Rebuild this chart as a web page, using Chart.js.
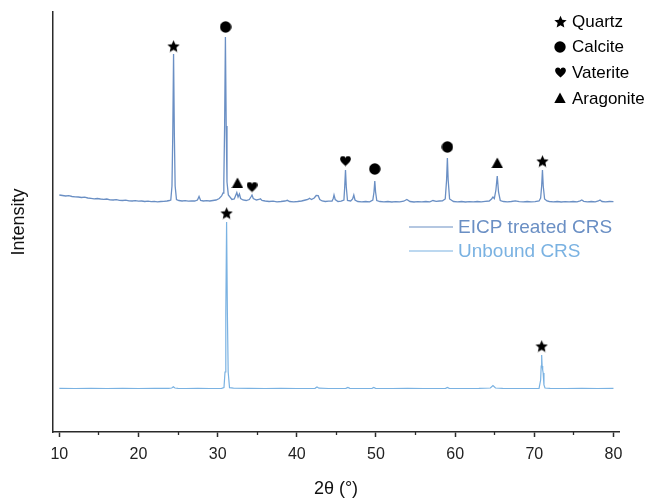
<!DOCTYPE html>
<html>
<head>
<meta charset="utf-8">
<script src="https://cdn.jsdelivr.net/npm/chart.js@4"></script>
<style>
  html, body { margin: 0; padding: 0; background: #ffffff; }
  #wrap { width: 649px; height: 500px; }
</style>
</head>
<body>
<div id="wrap"><canvas id="c" width="649" height="500"></canvas></div>
<script>
// ---------------- DATA ----------------
const seriesNames = ['EICP treated CRS', 'Unbound CRS'];

// EICP treated CRS: 2θ (°) and intensity (a.u., offset pattern)
const eicpTheta = [
  10.0,10.4,10.8,11.2,11.6,12.0,12.4,12.8,13.2,13.6,
  14.0,14.4,14.8,15.2,15.6,16.0,16.4,16.8,17.2,17.6,
  18.0,18.4,18.8,19.2,19.6,20.0,20.4,20.8,21.2,21.6,
  22.0,22.4,22.8,23.2,23.6,23.9,24.08,24.23,24.33,24.43,
  24.53,24.63,24.8,25.1,25.5,25.9,26.3,26.7,27.1,27.45,
  27.65,27.85,28.2,28.6,29.0,29.4,29.8,30.2,30.5,30.68,
  30.78,30.88,30.98,31.08,31.18,31.35,31.8,32.1,32.3,32.42,
  32.58,32.75,32.9,33.2,33.6,34.0,34.2,34.34,34.5,34.9,
  35.2,35.4,35.6,36.0,36.5,37.0,37.5,38.0,38.5,38.8,
  39.1,39.6,40.1,40.6,41.1,41.4,41.6,41.85,42.2,42.45,
  42.7,42.9,43.2,43.6,44.0,44.45,44.6,44.7,44.85,45.2,
  45.6,45.95,46.05,46.15,46.25,46.4,46.8,47.05,47.2,47.35,
  47.7,48.2,48.7,49.2,49.6,49.75,49.85,49.95,50.1,50.5,
  51.0,51.5,52.0,52.5,53.0,53.5,53.9,54.3,54.8,55.3,
  55.8,56.3,56.8,57.2,57.6,58.0,58.4,58.75,58.92,59.02,
  59.12,59.3,59.8,60.3,60.8,61.3,61.8,62.3,62.8,63.3,
  63.8,64.3,64.6,64.78,64.95,65.15,65.32,65.48,65.7,66.1,
  66.6,67.1,67.6,68.1,68.6,69.1,69.6,70.1,70.6,70.8,
  70.93,71.03,71.13,71.3,71.6,71.9,72.4,72.9,73.4,73.9,
  74.4,74.9,75.4,75.8,76.0,76.25,76.7,77.2,77.7,78.1,
  78.3,78.55,79.0,79.5,80.0
];
const eicpInt = [
  237,236.5,236,236.3,235.5,235.2,235,234.5,234.8,234,
  233.7,233.2,233.5,233,232.7,233,232.2,232,232.4,231.7,
  231.5,231.8,231.2,231,231.4,230.8,231,230.5,230.8,230.4,
  230.6,230.2,230.5,230.7,231,231.5,232,246,297,378,
  297,246,232.5,231.5,231,231.4,230.8,231.2,231,232,
  235.5,231.5,231,231.4,231,231.5,232,233.5,236,239,
  250,306,395,306,250,237,232.5,233,237,239.5,
  235,238,233.5,232,231.5,232.5,235,237,233.5,232,
  232.5,233.2,231.5,231,230.5,230.8,230.2,230.5,231,231.7,
  230.5,230.2,230.5,231,232,232.5,233.7,232.5,234,236.5,
  236.3,232.5,231,230.5,230.8,231,233.5,237,232.5,230.5,
  230.8,232,245,262,245,231.5,231,233,237,232,
  230.5,230.2,230.5,230.2,232,240,251,240,231.5,230.5,
  230.2,230.5,230,230.4,230.2,230.8,232.5,230.5,230,230.4,
  230.1,230.5,230.2,231.5,230.6,231,231.2,233,252,274,
  252,233,230.5,230.2,230.5,230,230.4,230.1,230.5,230.2,
  230.6,231,233,235,233.5,242,256,240,231.5,230.5,
  230.2,230.5,231.2,230.4,230.1,230.5,230.2,230.4,231,234,
  246,262,246,233,231,230.5,230.2,230.5,230,230.4,
  230.1,230.5,230.2,231.2,232,230.7,230.2,230.5,230.1,231,
  232,230.5,230.2,230.5,230.3
];

// Unbound CRS
const unboundTheta = [
  10,12,14,16,18,20,22,23.8,24.2,24.4,
  24.6,25.0,26,27.5,29,30.5,30.8,30.93,31.03,31.13,
  31.23,31.33,31.5,32,34,36,38,40,42.3,42.55,
  42.8,44,46.2,46.45,46.7,48,49.5,49.72,49.95,52,
  54,56,58.8,59.02,59.25,61,63,64.45,64.78,65.1,
  66,68,70.6,70.8,70.87,70.93,70.99,71.06,71.12,71.22,
  71.35,72,74,76,78,80
];
const unboundInt = [
  43.6,43.5,43.7,43.5,43.6,43.5,43.7,43.6,44,45.2,
  44,43.6,43.5,43.6,43.5,43.7,44.5,60,118,210,
  118,60,44.3,43.8,43.6,43.5,43.6,43.5,43.7,45,
  43.8,43.5,43.6,44.6,43.6,43.5,43.7,44.5,43.7,43.5,
  43.6,43.5,43.6,44.5,43.6,43.5,43.6,44,46.5,44,
  43.6,43.5,43.7,52,66,77,66,62,59,47,
  44,43.6,43.5,43.6,43.5,43.6
];

// Phase markers (2θ position, height of marker)
const phaseNames = ['Quartz', 'Calcite', 'Vaterite', 'Aragonite'];
const quartzTheta = [24.43, 71.03, 31.13, 70.93];
const quartzInt   = [386, 271, 219, 86];
const calciteTheta = [31.0, 49.85, 59.02];
const calciteInt   = [405, 263, 285];
const vateriteTheta = [34.34, 46.15];
const vateriteInt   = [245, 271];
const aragoniteTheta = [32.5, 65.32];
const aragoniteInt   = [249, 269];

// Axis ticks
const xMajorTicks = [10, 20, 30, 40, 50, 60, 70, 80];
const xMinorTicks = [15, 25, 35, 45, 55, 65, 75];

// ---------------- STYLE ----------------
const FONT = '"Liberation Sans", Arial, Helvetica, sans-serif';
const seriesColors = ['#6a8fc4', '#7ab2e2'];
const axisColor = '#2a2a2a';

function makeSymbol(kind, size) {
  const c = document.createElement('canvas');
  c.width = size; c.height = size;
  const g = c.getContext('2d');
  g.fillStyle = '#000';
  const s = size, m = s / 2;
  g.beginPath();
  if (kind === 'star') {
    const R = s / 2, r = R * 0.46;
    for (let k = 0; k < 10; k++) {
      const a = -Math.PI / 2 + k * Math.PI / 5;
      const rr = (k % 2) ? r : R;
      const px = m + rr * Math.cos(a), py = m + rr * Math.sin(a) + R * 0.1;
      if (k) g.lineTo(px, py); else g.moveTo(px, py);
    }
    g.closePath();
  } else if (kind === 'circle') {
    g.arc(m, m, s / 2 - 0.3, 0, Math.PI * 2);
  } else if (kind === 'triangle') {
    g.moveTo(m, 0.5);
    g.lineTo(s - 0.3, s - 1);
    g.lineTo(0.3, s - 1);
    g.closePath();
  } else if (kind === 'heart') {
    const k = s / 10;
    g.moveTo(5 * k, 9.6 * k);
    g.bezierCurveTo(2 * k, 7 * k, 0, 5 * k, 0.1 * k, 3.1 * k);
    g.bezierCurveTo(0.1 * k, 1.4 * k, 1.3 * k, 0.4 * k, 2.7 * k, 0.4 * k);
    g.bezierCurveTo(3.9 * k, 0.4 * k, 4.6 * k, 1.2 * k, 5 * k, 2.2 * k);
    g.bezierCurveTo(5.4 * k, 1.2 * k, 6.1 * k, 0.4 * k, 7.3 * k, 0.4 * k);
    g.bezierCurveTo(8.7 * k, 0.4 * k, 9.9 * k, 1.4 * k, 9.9 * k, 3.1 * k);
    g.bezierCurveTo(10 * k, 5 * k, 8 * k, 7 * k, 5 * k, 9.6 * k);
    g.closePath();
  }
  g.fill();
  return c;
}

const symStar = makeSymbol('star', 13);
const symCircle = makeSymbol('circle', 12);
const symHeart = makeSymbol('heart', 11);
const symTriangle = makeSymbol('triangle', 12);
const phaseSymbols = [symStar, symCircle, symHeart, symTriangle];

function pts(xs, ys) { return xs.map((x, i) => ({ x: x, y: ys[i] })); }

const legendPlugin = {
  id: 'customLegends',
  afterDraw(chart) {
    const ctx = chart.ctx;
    ctx.save();
    ctx.textBaseline = 'middle';
    ctx.textAlign = 'left';
    seriesNames.forEach((name, i) => {
      const y = 227 + i * 24;
      ctx.strokeStyle = seriesColors[i];
      ctx.lineWidth = 1.2;
      ctx.beginPath(); ctx.moveTo(409, y); ctx.lineTo(453, y); ctx.stroke();
      ctx.fillStyle = seriesColors[i];
      ctx.font = '19px ' + FONT;
      ctx.fillText(name, 458, y + 1);
    });
    phaseNames.forEach((name, i) => {
      const y = 21 + i * 25.7;
      const img = phaseSymbols[i];
      ctx.drawImage(img, Math.round(560 - img.width / 2), Math.round(y - img.height / 2));
      ctx.fillStyle = '#000';
      ctx.font = '17px ' + FONT;
      ctx.fillText(name, 572, y + 1);
    });
    ctx.restore();
  }
};

const markerDs = (xs, ys, img) => ({
  type: 'scatter', data: pts(xs, ys), showLine: false,
  pointStyle: img, pointRadius: 6, pointHoverRadius: 6, order: -1, clip: false
});

new Chart(document.getElementById('c'), {
  type: 'scatter',
  data: {
    datasets: [
      { label: seriesNames[0], data: pts(eicpTheta, eicpInt), showLine: true, borderColor: seriesColors[0], borderWidth: 1.3, pointRadius: 0, tension: 0 },
      { label: seriesNames[1], data: pts(unboundTheta, unboundInt), showLine: true, borderColor: seriesColors[1], borderWidth: 1.2, pointRadius: 0, tension: 0 },
      markerDs(quartzTheta, quartzInt, symStar),
      markerDs(calciteTheta, calciteInt, symCircle),
      markerDs(vateriteTheta, vateriteInt, symHeart),
      markerDs(aragoniteTheta, aragoniteInt, symTriangle)
    ]
  },
  options: {
    responsive: false,
    animation: false,
    events: [],
    layout: { padding: { left: 8, top: 12, right: 30, bottom: 0 } },
    plugins: { legend: { display: false }, tooltip: { enabled: false } },
    scales: {
      x: {
        type: 'linear', position: 'bottom', min: 9.2, max: 80.7, weight: 1,
        afterBuildTicks(s) { s.ticks = xMajorTicks.map(v => ({ value: v })); },
        ticks: { font: { size: 16, family: FONT }, color: '#222', padding: 8, maxRotation: 0, autoSkip: false },
        grid: { drawOnChartArea: false, drawTicks: true, tickLength: 5, tickColor: axisColor, tickWidth: 1.5 },
        border: { display: true, color: axisColor, width: 1.5 },
        title: { display: true, text: '2θ (°)', font: { size: 18, family: FONT }, color: '#111', padding: { top: 0, bottom: 0 } },
        afterFit(s) { s.height = 68; }
      },
      x2: {
        type: 'linear', position: 'bottom', min: 9.2, max: 80.7, weight: -1,
        afterBuildTicks(s) { s.ticks = xMinorTicks.map(v => ({ value: v })); },
        ticks: { display: false },
        grid: { drawOnChartArea: false, drawTicks: true, tickLength: 3, tickColor: axisColor, tickWidth: 1.3 },
        border: { display: false },
        title: { display: false },
        afterFit(s) { s.height = 0; }
      },
      y: {
        type: 'linear', position: 'left', min: 0, max: 420,
        ticks: { display: false },
        grid: { display: false, drawTicks: false },
        border: { display: true, color: axisColor, width: 1.5 },
        title: { display: true, text: 'Intensity', font: { size: 18, family: FONT }, color: '#111', padding: { top: 0, bottom: 0 } },
        afterFit(s) { s.width = 45; }
      }
    }
  },
  plugins: [legendPlugin]
});
</script>
</body>
</html>
